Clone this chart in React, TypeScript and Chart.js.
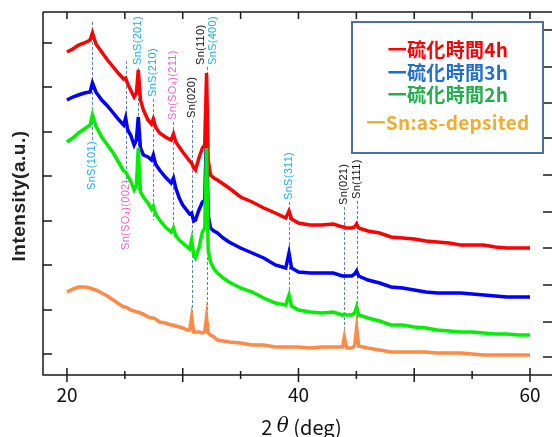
import { useEffect, useRef } from "react";
import { Chart, registerables } from "chart.js";
Chart.register(...registerables);

// ---- data ----
const twoTheta = [20, 20.5, 21, 21.5, 22, 22.2, 22.5, 23, 23.5, 24, 24.5, 24.9, 25.07, 25.25, 25.5, 25.8, 26.0, 26.16, 26.35, 26.6, 27, 27.3, 27.46, 27.65, 28, 28.5, 29.0, 29.2, 29.4, 29.7, 30, 30.4, 30.6, 30.77, 30.95, 31.1, 31.4, 31.7, 31.9, 32.06, 32.2, 32.4, 32.7, 33, 33.5, 34, 35, 36, 37, 38, 38.9, 39.18, 39.4, 40, 41, 42, 43, 43.8, 43.96, 44.15, 44.6, 44.85, 45.02, 45.2, 46, 47, 48, 49, 50, 51, 52, 53, 54, 55, 56, 57, 58, 59, 60];
const sulf4h = [323, 326, 330, 332, 335, 342, 331, 323, 315, 308, 301, 296, 297, 291, 285, 278, 282, 305, 275, 265, 255, 251, 256, 248, 242, 238, 235, 241, 233, 228, 223, 217, 214, 212, 207, 205, 217, 227, 230, 302, 215, 200, 197, 195, 191, 187, 178, 173, 167, 162, 157, 164, 156, 152, 150, 150, 151, 148, 148, 147, 147, 148, 151, 147, 144, 142, 138, 137, 136, 134, 133, 132, 130, 130, 130, 128, 127, 127, 127];
const sulf3h = [275, 278, 280, 282, 283, 292, 283, 275, 269, 262, 255, 250, 257, 245, 240, 230, 235, 258, 227, 220, 218, 215, 220, 211, 205, 198, 192, 197, 187, 177, 170, 164, 161, 162, 154, 155, 165, 173, 175, 245, 160, 147, 144, 142, 137, 133, 127, 122, 117, 110, 107, 122, 107, 103, 102, 102, 102, 99, 99, 99, 99, 101, 104, 99, 95, 92, 88, 87, 85, 83, 82, 82, 82, 81, 80, 79, 78, 78, 78];
const sulf2h = [233, 237, 242, 246, 250, 260, 249, 238, 230, 222, 212, 204, 203, 199, 194, 185, 190, 227, 183, 178, 172, 166, 169, 161, 155, 148, 143, 147, 139, 135, 132, 128, 126, 135, 120, 117, 127, 143, 147, 227, 125, 113, 106, 102, 97, 93, 87, 83, 77, 72, 70, 80, 69, 65, 63, 62, 63, 60, 61, 60, 60, 62, 68, 60, 57, 54, 50, 50, 48, 47, 45, 44, 43, 43, 42, 41, 41, 40, 40];
const asDeposited = [83, 86, 88, 88, 87, 86, 85, 82, 79, 75, 71, 68, 68, 67, 65, 64, 63, 63, 62, 61, 58, 57, 57, 56, 53, 52, 50, 50, 49, 48, 47, 45, 45, 58, 43, 43, 43, 42, 43, 58, 42, 40, 38, 35, 34, 33, 32, 30, 30, 28, 28, 28, 28, 28, 27, 28, 28, 28, 38, 27, 27, 29, 47, 29, 27, 25, 23, 23, 23, 23, 22, 22, 22, 21, 20, 20, 20, 20, 20];

const seriesNames = ["一硫化時間4h", "一硫化時間3h", "一硫化時間2h", "一Sn:as-depsited"];
const xTickLabels = ["20", "40", "60"];
const xLabelValues = [20, 40, 60];
const xMajorTicks = [20, 30, 40, 50, 60];
const xMinorTicks = [25, 35, 45, 55];
const yLeftTicks = [332, 288, 243, 199, 154, 110, 65, 21];
const yRightTicks = [345, 308, 272, 237, 200, 163, 127, 90, 53, 18];

// peak markers: angle, line top / bottom (intensity units)
const peakAngles = [22.2, 25.07, 26.16, 27.46, 29.2, 30.77, 32.06, 39.18, 43.96, 45.02];
const peakLineTop = [353, 314, 307, 276, 253, 255, 308, 173, 168, 174];
const peakLineBottom = [235, 192, 185, 155, 143, 42, 45, 78, 30, 30];

const peakLabels = ["SnS(101)", "Sn(SO₄)(002)", "SnS(201)", "SnS(210)", "Sn(SO₄)(211)", "Sn(020)", "Sn(110)", "SnS(400)", "SnS(311)", "Sn(021)", "Sn(111)"];
const peakLabelAngles = [22.2, 25.07, 26.16, 27.46, 29.2, 30.77, 32.06, 32.06, 39.18, 43.96, 45.02];
const peakLabelPhase = ["SnS", "SnSO4", "SnS", "SnS", "SnSO4", "Sn", "Sn", "SnS", "SnS", "Sn", "Sn"];
const peakLabelBase = [185, 125, 310, 278, 255, 257, 310, 310, 175, 170, 176];

// ---- styles ----
const lineColors = ["#ff0000", "#0000ff", "#00f000", "#ff8a45"];
const legendColors = ["#ff0000", "#1e6fce", "#20b04b", "#f0ad30"];
const phaseColors: Record<string, string> = { SnS: "#1aaef0", SnSO4: "#f25fcf", Sn: "#111111" };
const labelDx = [0, 0, 0, 0, 0, 0, -6, 6, 0, 0, 0];
const legendBaselines = [57, 80, 102, 130];

const decor = {
  id: "decor",
  beforeDatasetsDraw(chart: any) {
    const { ctx, scales } = chart;
    const x = scales.x, y = scales.y;
    ctx.save();
    ctx.strokeStyle = "#5a84cc";
    ctx.lineWidth = 1;
    ctx.setLineDash([3, 2]);
    peakAngles.forEach((a, i) => {
      const px = Math.round(x.getPixelForValue(a)) + 0.5;
      ctx.beginPath();
      ctx.moveTo(px, y.getPixelForValue(peakLineTop[i]));
      ctx.lineTo(px, y.getPixelForValue(peakLineBottom[i]));
      ctx.stroke();
    });
    ctx.restore();
  },
  afterDraw(chart: any) {
    const { ctx, scales, chartArea } = chart;
    const x = scales.x, y = scales.y;
    const { left, right, top, bottom } = chartArea;
    ctx.save();
    // peak labels
    ctx.font = "11px 'Liberation Sans', Arial, sans-serif";
    (ctx as any).letterSpacing = "0.3px";
    ctx.textAlign = "left";
    ctx.textBaseline = "middle";
    peakLabels.forEach((t, i) => {
      const px = x.getPixelForValue(peakLabelAngles[i]) + labelDx[i];
      const py = y.getPixelForValue(peakLabelBase[i]);
      ctx.save();
      ctx.translate(px, py);
      ctx.rotate(-Math.PI / 2);
      ctx.fillStyle = phaseColors[peakLabelPhase[i]];
      ctx.fillText(t, 0, 0);
      ctx.restore();
    });
    (ctx as any).letterSpacing = "0px";

    // frame
    ctx.strokeStyle = "#1a1a1a";
    ctx.lineWidth = 1.5;
    ctx.beginPath();
    ctx.moveTo(left, top);
    ctx.lineTo(right + 2, top);
    ctx.moveTo(left, top);
    ctx.lineTo(left, bottom);
    ctx.lineTo(right + 2, bottom);
    ctx.stroke();
    // x ticks
    ctx.beginPath();
    xMajorTicks.forEach((v) => {
      const px = x.getPixelForValue(v);
      ctx.moveTo(px, bottom - 7);
      ctx.lineTo(px, bottom + 7);
      ctx.moveTo(px, top);
      ctx.lineTo(px, top + 7);
    });
    xMinorTicks.forEach((v) => {
      const px = x.getPixelForValue(v);
      ctx.moveTo(px, bottom - 4);
      ctx.lineTo(px, bottom + 4);
      ctx.moveTo(px, top);
      ctx.lineTo(px, top + 7);
    });
    yLeftTicks.forEach((v) => {
      const py = y.getPixelForValue(v);
      ctx.moveTo(left, py);
      ctx.lineTo(left + 9, py);
    });
    yRightTicks.forEach((v) => {
      const py = y.getPixelForValue(v);
      ctx.moveTo(right - 9, py);
      ctx.lineTo(right, py);
    });
    ctx.stroke();

    // x tick labels
    ctx.fillStyle = "#111";
    ctx.font = "19px 'Noto Sans CJK JP', sans-serif";
    ctx.textAlign = "center";
    ctx.textBaseline = "middle";
    xTickLabels.forEach((t, i) => {
      ctx.fillText(t, x.getPixelForValue(xLabelValues[i]), bottom + 20);
    });

    // x title: 2θ (deg)
    const cx = (x.getPixelForValue(20) + x.getPixelForValue(60)) / 2 + 3;
    const ty = bottom + 52;
    const f1 = "20px 'Noto Sans CJK JP', sans-serif";
    const f2 = "italic 20px 'DejaVu Serif', serif";
    const parts: [string, string][] = [["2 ", f1], ["θ", f2], [" (deg)", f1]];
    let total = 0;
    parts.forEach(([s, f]) => { ctx.font = f; total += ctx.measureText(s).width; });
    let cur = cx - total / 2;
    ctx.textAlign = "left";
    parts.forEach(([s, f]) => { ctx.font = f; ctx.fillText(s, cur, ty); cur += ctx.measureText(s).width; });

    // y title
    ctx.save();
    ctx.translate(20, 196);
    ctx.rotate(-Math.PI / 2);
    ctx.textAlign = "center";
    ctx.textBaseline = "middle";
    ctx.font = "bold 19px 'Liberation Sans', Arial, sans-serif";
    (ctx as any).letterSpacing = "0.5px";
    ctx.fillStyle = "#222";
    ctx.fillText("Intensity(a.u.)", 0, 0);
    ctx.restore();
    (ctx as any).letterSpacing = "0px";

    // legend box
    ctx.fillStyle = "#ffffff";
    ctx.fillRect(352, 22, 191, 131);
    ctx.strokeStyle = "#4a6fa8";
    ctx.lineWidth = 2;
    ctx.strokeRect(352, 22, 191, 131);
    ctx.font = "bold 19px 'Noto Sans CJK JP', sans-serif";
    (ctx as any).letterSpacing = "0.3px";
    ctx.textAlign = "center";
    ctx.textBaseline = "alphabetic";
    seriesNames.forEach((n, i) => {
      ctx.fillStyle = legendColors[i];
      ctx.fillText(n, 448, legendBaselines[i]);
    });
    (ctx as any).letterSpacing = "0px";
    ctx.restore();
  },
};

export default function App() {
  const ref = useRef<HTMLCanvasElement>(null);
  useEffect(() => {
    if (!ref.current) return;
    const series = [sulf4h, sulf3h, sulf2h, asDeposited];
    const orders = [1, 2, 0, 3];
    const chart = new Chart(ref.current, {
      type: "line",
      data: {
        datasets: series.map((s, k) => ({
          label: seriesNames[k],
          data: twoTheta.map((t, i) => ({ x: t, y: s[i] })),
          borderColor: lineColors[k],
          backgroundColor: lineColors[k],
          borderWidth: 3.5,
          pointRadius: 0,
          tension: 0,
          order: orders[k],
        })),
      },
      options: {
        responsive: false,
        animation: false,
        events: [],
        layout: { padding: { left: 43, right: 0, top: 12, bottom: 62 } },
        plugins: { legend: { display: false }, tooltip: { enabled: false }, title: { display: false } },
        scales: {
          x: { type: "linear", min: 17.93, max: 61.9, display: false },
          y: { type: "linear", min: 0, max: 363, display: false },
        },
      },
      plugins: [decor],
    });
    return () => chart.destroy();
  }, []);
  return (
    <div style={{ position: "absolute", left: 0, top: 0, width: 552, height: 437, background: "#fff" }}>
      <canvas ref={ref} width={552} height={437} style={{ display: "block" }} />
    </div>
  );
}
